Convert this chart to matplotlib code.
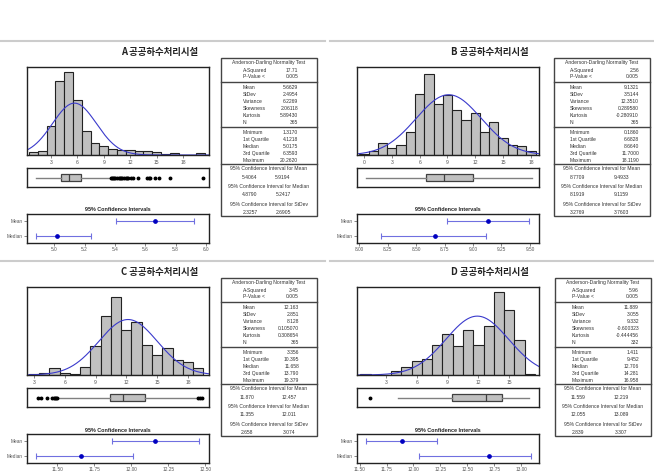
import numpy as np
import matplotlib
matplotlib.use("Agg")
import matplotlib.pyplot as plt
from matplotlib.lines import Line2D
from matplotlib.patches import Rectangle

W, H = 654, 472

# ---- histogram counts (bin width 1, centred on the integers) ----
a_centers = list(range(1, 21))
a_counts = [3, 5, 33, 83, 93, 62, 27, 14, 10, 7, 6, 6, 4, 4, 3, 1, 2, 0, 0, 2]
b_centers = list(range(0, 19))
b_counts = [1, 3, 8, 5, 7, 16, 42, 56, 35, 41, 31, 24, 29, 16, 23, 12, 7, 6, 3]
c_centers = list(range(3, 20))
c_counts = [1, 2, 6, 2, 1, 7, 27, 54, 72, 41, 49, 28, 18, 25, 14, 12, 6]
d_centers = list(range(1, 18))
d_counts = [1, 0, 0, 3, 6, 10, 12, 22, 30, 21, 33, 22, 36, 61, 48, 26, 1]

# ---- summary tables ----
a_ad = ["17.71", "0.005"]
a_desc = ["5.6629", "2.4954", "6.2269", "2.06118", "5.89430", "365"]
a_quart = ["1.3170", "4.1218", "5.0175", "6.3593", "20.2620"]
a_ci = [("5.4064", "5.9194"), ("4.8790", "5.2417"), ("2.3257", "2.6905")]

b_ad = ["2.56", "0.005"]
b_desc = ["9.1321", "3.5144", "12.3510", "0.289580", "-0.280910", "365"]
b_quart = ["0.1860", "6.6828", "8.6640", "11.7000", "18.1190"]
b_ci = [("8.7709", "9.4933"), ("8.1919", "9.1159"), ("3.2769", "3.7603")]

c_ad = ["3.45", "0.005"]
c_desc = ["12.163", "2.851", "8.128", "0.105070", "0.308654", "365"]
c_quart = ["3.356", "10.395", "11.658", "13.790", "19.379"]
c_ci = [("11.870", "12.457"), ("11.355", "12.011"), ("2.658", "3.074")]

d_ad = ["5.96", "0.005"]
d_desc = ["11.889", "3.055", "9.332", "-0.600323", "-0.444456", "332"]
d_quart = ["1.411", "9.452", "12.706", "14.281", "16.958"]
d_ci = [("11.559", "12.219"), ("12.055", "13.089"), ("2.839", "3.307")]

# ---- boxplot whiskers and outliers ----
a_whisk = [1.317, 9.6]
a_fliers = [9.8, 9.9, 10.0, 10.2, 10.3, 10.5, 10.7, 10.8, 11.0, 11.1, 11.3,
            11.5, 11.6, 11.8, 12.1, 12.3, 12.9, 13.9, 14.1, 14.3, 14.8, 15.3,
            16.5, 20.262]
b_whisk = [0.186, 18.119]
b_fliers = []
c_whisk = [5.45, 18.8]
c_fliers = [3.356, 3.7, 4.3, 4.8, 4.95, 5.05, 5.15, 5.25, 19.0, 19.2, 19.379]
d_whisk = [4.16, 16.958]
d_fliers = [1.411]

titles = ["A 공공하수처리시설", "B 공공하수처리시설",
          "C 공공하수처리시설", "D 공공하수처리시설"]

stat_labels = ["Mean", "StDev", "Variance", "Skewness", "Kurtosis", "N"]
quart_labels = ["Minimum", "1st Quartile", "Median", "3rd Quartile", "Maximum"]
ci_labels = ["95% Confidence Interval for Mean",
             "95% Confidence Interval for Median",
             "95% Confidence Interval for StDev"]

plt.rcParams['font.family'] = ['Liberation Sans', 'DejaVu Sans']
fig = plt.figure(figsize=(6.54, 4.72), dpi=100)

EDGE = '#222222'
TXT = '#333333'


def px_axes(x0, y0, x1, y1):
    return fig.add_axes([x0 / W, 1 - y1 / H, (x1 - x0) / W, (y1 - y0) / H])


def ftext(x, y, s, **kw):
    kw.setdefault('fontsize', 3.6)
    kw.setdefault('color', TXT)
    fig.text(x / W, 1 - y / H, s, va='center', **kw)


def fline(x0, y0, x1, y1, **kw):
    fig.add_artist(Line2D([x0 / W, x1 / W], [1 - y0 / H, 1 - y1 / H], **kw))


def style_spines(ax):
    for s in ax.spines.values():
        s.set_linewidth(1.0)
        s.set_color(EDGE)


def panel(ox, oy, tx, title, centers, counts, ad, desc, quart, ci,
          whisk, fliers, hx, htick, ytop, cx, ctick, cfmt, cols, cicols):
    mean, sd, n = float(desc[0]), float(desc[1]), float(desc[5])
    q1, med, q3 = float(quart[1]), float(quart[2]), float(quart[3])

    fline(ox, 41 + oy, ox + 325, 41 + oy, color='#cccccc', lw=1.5)
    ftext(ox + 160, 52 + oy, title, ha='center', fontsize=6.8,
          fontweight='bold', color='#222222',
          family=['Noto Sans CJK KR', 'DejaVu Sans'])

    # histogram + normal curve
    ax = px_axes(ox + 27, oy + 67, ox + 209, oy + 155)
    ax.bar(centers, counts, width=1, color='#c0c0c0', edgecolor=EDGE,
           linewidth=0.8)
    xs = np.linspace(hx[0], hx[1], 300)
    pdf = n * np.exp(-0.5 * ((xs - mean) / sd) ** 2) / (sd * np.sqrt(2 * np.pi))
    ax.plot(xs, pdf, color='#3a3acc', lw=0.8)
    ax.set_xlim(*hx)
    ax.set_ylim(0, ytop)
    ax.set_yticks([])
    ax.set_xticks(htick)
    ax.tick_params(axis='x', labelsize=3.6, colors='#555555', length=2,
                   width=0.5, pad=1.5)
    style_spines(ax)

    # boxplot
    bx = px_axes(ox + 27, oy + 168, ox + 209, oy + 187)
    bx.bxp([{'med': med, 'q1': q1, 'q3': q3, 'whislo': whisk[0],
             'whishi': whisk[1], 'fliers': fliers}],
           orientation='horizontal', widths=0.42, patch_artist=True,
           showcaps=False,
           boxprops=dict(facecolor='#c0c0c0', edgecolor='#404040', lw=0.9),
           medianprops=dict(color='#404040', lw=0.9),
           whiskerprops=dict(color='#808080', lw=1.0),
           flierprops=dict(marker='o', ms=1.8, mfc='black', mec='black'))
    bx.set_xlim(*hx)
    bx.set_ylim(0.5, 1.5)
    bx.set_xticks([])
    bx.set_yticks([])
    style_spines(bx)

    # confidence intervals
    ftext(ox + 118, oy + 210, "95% Confidence Intervals", ha='center',
          fontsize=3.9, fontweight='bold', color='#222222')
    cax = px_axes(ox + 27, oy + 214, ox + 209, oy + 243)
    rows = [(mean, ci[0], 1), (med, ci[1], 0)]
    for val, (lo, hi), y in rows:
        lo, hi = float(lo), float(hi)
        cax.errorbar([val], [y], xerr=[[val - lo], [hi - val]], fmt='o',
                     ms=2.4, color='#0000c0', ecolor='#7070e0',
                     elinewidth=0.8, capsize=2, capthick=0.8)
    cax.set_xlim(*cx)
    cax.set_ylim(-0.5, 1.5)
    cax.set_xticks(ctick)
    cax.set_xticklabels([cfmt.format(t) for t in ctick])
    cax.set_yticks([1, 0])
    cax.set_yticklabels(['Mean', 'Median'])
    cax.tick_params(labelsize=3.4, colors='#555555', length=2, width=0.5,
                    pad=1.2)
    style_spines(cax)

    # summary table
    ty = 58 + oy
    tw = 96
    fig.add_artist(Rectangle((tx / W, 1 - (ty + 158) / H), tw / W, 158 / H,
                             fill=False, edgecolor='#444444', lw=1.0))
    for dy in [24, 68.5, 106]:
        fline(tx, ty + dy, tx + tw, ty + dy, color='#444444', lw=1.0)
    lx, vx = tx + cols[0], tx + cols[1]
    ftext(tx + tw / 2, ty + 4.5, "Anderson-Darling Normality Test",
          ha='center')
    for lab, val, dy in zip(["A-Squared", "P-Value <"], ad, [12.5, 18.5]):
        ftext(lx, ty + dy, lab, ha='left')
        ftext(vx, ty + dy, val, ha='right')
    for i, (lab, val) in enumerate(zip(stat_labels, desc)):
        ftext(lx, ty + 29.5 + 7 * i, lab, ha='left')
        ftext(vx, ty + 29.5 + 7 * i, val, ha='right')
    for i, (lab, val) in enumerate(zip(quart_labels, quart)):
        ftext(lx, ty + 74.5 + 7 * i, lab, ha='left')
        ftext(vx, ty + 74.5 + 7 * i, val, ha='right')
    for i, (lab, (lo, hi)) in enumerate(zip(ci_labels, ci)):
        ftext(tx + tw / 2, ty + 111 + 17.5 * i, lab, ha='center')
        ftext(tx + cicols[0], ty + 119.5 + 17.5 * i, lo, ha='center')
        ftext(tx + cicols[1], ty + 119.5 + 17.5 * i, hi, ha='center')


panel(0, 0, 221, titles[0], a_centers, a_counts, a_ad, a_desc, a_quart, a_ci,
      a_whisk, a_fliers, (0.27, 20.95), [3, 6, 9, 12, 15, 18], 99,
      (4.82, 6.02), [5.0, 5.2, 5.4, 5.6, 5.8, 6.0], "{:.1f}", (22, 77),
      (29, 62))
panel(330, 0, 554, titles[1], b_centers, b_counts, b_ad, b_desc, b_quart,
      b_ci, b_whisk, b_fliers, (-0.76, 18.87), [0, 3, 6, 9, 12, 15, 18], 60.5,
      (7.98, 9.58), [8.0, 8.25, 8.5, 8.75, 9.0, 9.25, 9.5], "{:.2f}", (16, 85),
      (23, 67))
panel(0, 220, 221, titles[2], c_centers, c_counts, c_ad, c_desc, c_quart,
      c_ci, c_whisk, c_fliers, (2.32, 20.05), [3, 6, 9, 12, 15, 18], 81,
      (11.296, 12.525), [11.5, 11.75, 12.0, 12.25, 12.5], "{:.2f}", (22, 78),
      (26, 68))
panel(330, 220, 555, titles[3], d_centers, d_counts, d_ad, d_desc, d_quart,
      d_ci, d_whisk, d_fliers, (0.18, 17.9), [3, 6, 9, 12, 15], 64.8,
      (11.475, 13.167), [11.5, 11.75, 12.0, 12.25, 12.5, 12.75, 13.0],
      "{:.2f}", (17, 84), (23, 66))

fig.savefig("out.png", dpi=100)
